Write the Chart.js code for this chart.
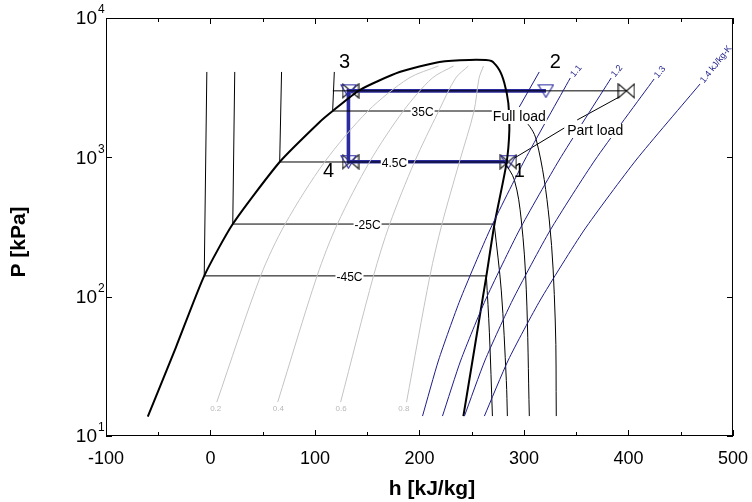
<!DOCTYPE html>
<html>
<head>
<meta charset="utf-8">
<script src="https://cdn.jsdelivr.net/npm/chart.js@4.4.1/dist/chart.umd.min.js"></script>
<style>
  html, body { margin: 0; padding: 0; background: #fff; }
</style>
</head>
<body>
<canvas id="ph" width="752" height="502"></canvas>
<script>
"use strict";

// axis ticks
var xTicks = [-100, 0, 100, 200, 300, 400, 500];
var yDecades = [1, 2, 3, 4];

// saturation dome
var domeH = [-60, -33, -6, 21.3, 66.2, 104.5, 116.9, 142.7, 180.9, 219.1, 247.8, 268.8, 276.4, 281.2, 285, 286, 283.2, 271.6, 264, 242];
var domeP = [13.8, 43.5, 141, 332, 926, 1793, 2150, 3040, 4093, 4830, 5000, 4915, 4237, 3417, 2455, 1570, 900, 327, 141, 13.9];

// isotherms: names, saturation pressure, liquid side h, vapour side h
var isoNames = ["-45C", "-25C", "4.5C", "35C"];
var isoPsat = [141, 332, 926, 2150];
var isoHliq = [-6, 21.3, 66.2, 116.9];
var isoHliqTop = [-3.5, 23.2, 68, 118.5];
var isoHvap = [264, 271.6, 281.2, 286];
var isoLabelH = [133, 150.3, 176, 203];
var liqTopP = 4100;

// superheated parts of the isotherms
var supH45 = [264, 266.9, 269.8];
var supP45 = [141, 55, 13.9];
var supH25 = [271.6, 278.3, 283.1, 284.1];
var supP25 = [327, 110, 25, 13.9];
var supH4 = [281.2, 290.8, 297.4, 302.2, 305.1];
var supP4 = [926, 687, 355, 112, 13.9];
var supH35 = [286, 300.3, 311.8, 324.2, 329.9, 330.9];
var supP35 = [2150, 1854, 1332, 355, 68, 13.9];

// quality lines
var qNames = ["0.2", "0.4", "0.6", "0.8"];
var qP = [17.5, 141, 332, 926, 2150, 3705, 4520];
var q02 = [6, 48, 71.4, 109.2, 150.7, 189.9, 218.1];
var q04 = [64.3, 102, 121.4, 152.2, 184.5, 212.2, 232.5];
var q06 = [124.5, 156, 171.5, 195.2, 218.4, 234.6, 246.8];
var q08 = [187.6, 210, 221.5, 238.2, 252.2, 257, 261.2];
var qLabelH = [5, 65, 125, 185];

// isentropes (kJ/kg-K)
var sNames = ["1.1", "1.2", "1.3", "1.4 kJ/kg-K"];
var sP = [13.9, 35.1, 94.6, 300.8, 957];
var s11H = [202.9, 218.3, 238.8, 267.3, 300.7, 344.3];
var s12H = [222.0, 239.6, 263.1, 295.6, 333.7, 383.4];
var s13H = [243.0, 262.8, 289.1, 325.2, 368.0, 424.5];
var s14H = [262.1, 285.0, 315.6, 357.6, 407.3, 468.5];
var sTopP = [3710, 3710, 3649, 3360];

// cycle states: 1, 4, 3, 2 (full load), 2 (part load)
var cycH = [285, 132, 132, 321];
var cycP = [930, 930, 3000, 3000];
var partH = [117, 398];
var partP = [3000, 3000];
var markH = [285, 134, 134, 398];
var markP = [930, 930, 3000, 3000];

// leader lines of the notes
var leadAH = [350.9, 391.1];
var leadAP = [1854, 2711];
var leadBH = [338.5, 290.8];
var leadBP = [1623, 988];
var leadCH = [295.5, 314.6];
var leadCP = [2297, 4100];

function pts(hs, ps) {
    return hs.map(function (h, i) { return { x: h, y: ps[i] }; });
}

function line(data, color, width, extra) {
    var d = {
        data: data,
        showLine: true,
        borderColor: color,
        borderWidth: width,
        pointRadius: 0,
        fill: false,
        tension: 0
    };
    for (var k in extra || {}) d[k] = extra[k];
    return d;
}

// marker images
function triangleDown(color) {
    var c = document.createElement('canvas');
    c.width = 17; c.height = 15;
    var g = c.getContext('2d');
    g.strokeStyle = color; g.lineWidth = 1.1;
    g.beginPath(); g.moveTo(1, 1.5); g.lineTo(16, 1.5); g.lineTo(8.5, 14); g.closePath(); g.stroke();
    return c;
}
function bowtie(color) {
    var c = document.createElement('canvas');
    c.width = 18; c.height = 16;
    var g = c.getContext('2d');
    g.strokeStyle = color; g.lineWidth = 1.1;
    g.beginPath();
    g.moveTo(1, 1); g.lineTo(1, 15); g.lineTo(9, 8); g.closePath();
    g.moveTo(17, 1); g.lineTo(17, 15); g.lineTo(9, 8); g.closePath();
    g.stroke();
    return c;
}

var navy = '#1c1c8a';
var cycBlue = '#2b2ba0';
var datasets = [];
var sLines = [s11H, s12H, s13H, s14H];

// quality lines
[q02, q04, q06, q08].forEach(function (q) {
    datasets.push(line(pts(q, qP), '#c4c4c4', 1, { tension: 0.3 }));
});
// isentropes
sLines.forEach(function (hs, k) {
    datasets.push(line(pts(hs, sP.concat([sTopP[k]])), navy, 1, { tension: 0.2 }));
});
// isotherms
for (var i = 0; i < isoNames.length; i++) {
    datasets.push(line(pts([isoHliqTop[i], isoHliq[i], isoHvap[i]], [liqTopP, isoPsat[i], isoPsat[i]]), '#000', 1));
}
[[supH45, supP45], [supH25, supP25], [supH4, supP4], [supH35, supP35]].forEach(function (s) {
    datasets.push(line(pts(s[0], s[1]), '#000', 1, { tension: 0.35 }));
});
// dome
datasets.push(line(pts(domeH, domeP), '#000', 2, { tension: 0.2 }));
// part load condensing line and leaders
datasets.push(line(pts(partH, partP), '#000', 1));
datasets.push(line(pts(leadAH, leadAP), '#000', 1));
datasets.push(line(pts(leadBH, leadBP), '#000', 1));
datasets.push(line(pts(leadCH, leadCP), navy, 1));
// full load cycle, drawn as a double line
datasets.push(line(pts(cycH, cycP), cycBlue, 3.6));
datasets.push(line(pts(cycH, cycP), '#fff', 1.6));
// markers
datasets.push({
    data: pts(cycH, cycP),
    showLine: false,
    pointStyle: triangleDown(cycBlue),
    pointRadius: 8
});
datasets.push({
    data: pts(markH, markP),
    showLine: false,
    pointStyle: bowtie('#111'),
    pointRadius: 8
});

var FONT = "'Liberation Sans', Arial, sans-serif";

function txt(ctx, s, x, y, size, color, opts) {
    opts = opts || {};
    ctx.save();
    ctx.font = (opts.bold ? 'bold ' : '') + size + 'px ' + FONT;
    ctx.textAlign = opts.align || 'center';
    ctx.textBaseline = 'middle';
    ctx.translate(x, y);
    if (opts.rot) ctx.rotate(opts.rot);
    if (opts.bg) {
        var w = ctx.measureText(s).width;
        var x0 = ctx.textAlign === 'left' ? 0 : -w / 2;
        ctx.fillStyle = '#fff';
        ctx.fillRect(x0 - 1, -size / 2, w + 2, size);
    }
    ctx.fillStyle = color;
    ctx.fillText(s, 0, 0);
    ctx.restore();
}

var decor = {
    id: 'decor',
    afterDatasetsDraw: function (chart) {
        var ctx = chart.ctx, xs = chart.scales.x, ys = chart.scales.y, a = chart.chartArea;
        function X(h) { return xs.getPixelForValue(h); }
        function Y(p) { return ys.getPixelForValue(p); }

        // isotherm labels
        for (var i = 0; i < isoNames.length; i++) {
            txt(ctx, isoNames[i], X(isoLabelH[i]), Y(isoPsat[i]) + 2, 12, '#000', { bg: true });
        }
        // quality labels
        for (var j = 0; j < qNames.length; j++) {
            txt(ctx, qNames[j], X(qLabelH[j]), Y(15.6), 8, '#b8b8b8');
        }
        // isentrope labels, at the upper end of each line
        sLines.forEach(function (hs, k) {
            txt(ctx, sNames[k], X(hs[hs.length - 1]) + 2, Y(sTopP[k]) - 2, 9, navy, { align: 'left', rot: -0.9 });
        });
        // state labels
        txt(ctx, '3', X(128.3), Y(4831), 20, '#000');
        txt(ctx, '2', X(329.9), Y(4831), 20, '#000');
        txt(ctx, '4', X(113), Y(785), 20, '#000');
        txt(ctx, '1', X(295.5), Y(785), 20, '#000');
        txt(ctx, 'Full load', X(295.5), Y(1948), 14, '#000', { bg: true });
        txt(ctx, 'Part load', X(368.1), Y(1545), 14, '#000', { bg: true });

        // frame and inward ticks
        ctx.save();
        ctx.strokeStyle = '#000';
        ctx.lineWidth = 1;
        ctx.strokeRect(a.left + 0.5, a.top + 0.5, a.right - a.left - 1, a.bottom - a.top - 1);
        ctx.beginPath();
        for (var h = -100; h <= 500; h += 50) {
            var px = Math.round(X(h)) + 0.5, len = h % 100 === 0 ? 6 : 4;
            ctx.moveTo(px, a.bottom); ctx.lineTo(px, a.bottom - len);
            ctx.moveTo(px, a.top); ctx.lineTo(px, a.top + len);
        }
        yDecades.forEach(function (e) {
            var py = Math.round(Y(Math.pow(10, e))) + 0.5;
            ctx.moveTo(a.left, py); ctx.lineTo(a.left + 6, py);
            ctx.moveTo(a.right, py); ctx.lineTo(a.right - 6, py);
        });
        ctx.stroke();
        ctx.restore();

        // y tick labels with exponents
        yDecades.forEach(function (e) {
            var py = Y(Math.pow(10, e));
            txt(ctx, '10', 97, py + 1, 19, '#000', { align: 'right' });
            txt(ctx, String(e), 98, py - 8, 12, '#000', { align: 'left' });
        });

        // axis titles
        txt(ctx, 'P [kPa]', 19, 242, 21, '#000', { bold: true, rot: -Math.PI / 2 });
        txt(ctx, 'h [kJ/kg]', 432, 489, 21, '#000', { bold: true });
    }
};

new Chart(document.getElementById('ph'), {
    type: 'scatter',
    data: { datasets: datasets },
    options: {
        responsive: false,
        animation: false,
        layout: { padding: { top: 18, right: 18, left: 0, bottom: 0 } },
        plugins: { legend: { display: false }, tooltip: { enabled: false } },
        scales: {
            x: {
                type: 'linear', min: -100, max: 500,
                afterBuildTicks: function (s) { s.ticks = xTicks.map(function (v) { return { value: v }; }); },
                afterFit: function (s) { s.height = 66; },
                grid: { display: false },
                border: { display: false },
                ticks: { color: '#000', padding: 4, font: { size: 18, family: FONT } }
            },
            y: {
                type: 'logarithmic', min: 10, max: 10000,
                afterFit: function (s) { s.width = 106; },
                grid: { display: false },
                border: { display: false },
                ticks: { display: false }
            }
        }
    },
    plugins: [decor]
});
</script>
</body>
</html>
